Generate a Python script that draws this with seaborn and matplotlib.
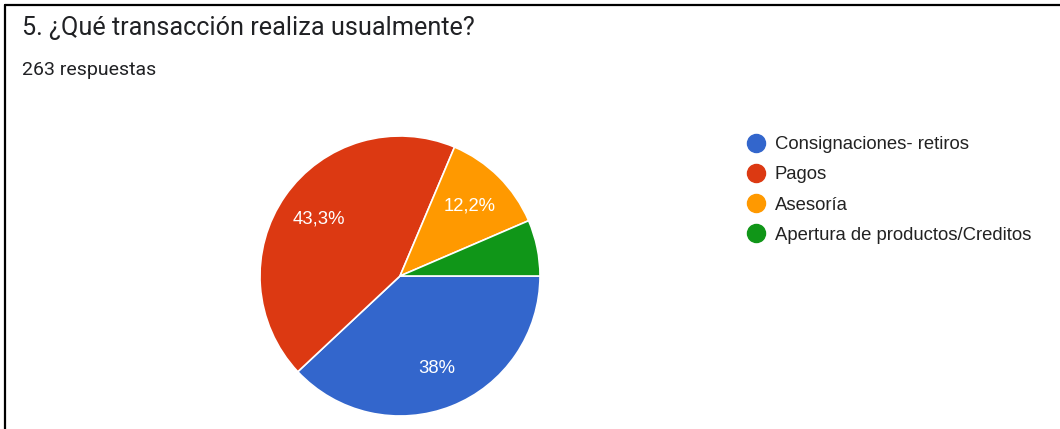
import matplotlib
matplotlib.use("Agg")
import matplotlib.pyplot as plt
from matplotlib.lines import Line2D
import seaborn as sns

categories = ["Consignaciones- retiros", "Pagos", "Asesoría", "Apertura de productos/Creditos"]
counts = [100, 114, 32, 17]
colors = ["#3366CC", "#DC3912", "#FF9900", "#109618"]
title = "5. ¿Qué transacción realiza usualmente?"
subtitle = "263 respuestas"

sns.set_theme(style="white")
plt.rcParams['font.family'] = ['Roboto', 'DejaVu Sans']
palette = sns.color_palette(colors)

fig = plt.figure(figsize=(10.6, 4.29), dpi=100)
fig.patch.set_facecolor("white")

W, H = 1060, 429
cx, cy, r = 400, 276, 140
ax = fig.add_axes([(cx - r) / W, (H - cy - r) / H, 2 * r / W, 2 * r / H])


def fmt(pct):
    if pct < 10:
        return ""
    s = f"{pct:.1f}"
    if s.endswith(".0"):
        s = s[:-2]
    return s.replace(".", ",") + "%"


wedges, texts, autotexts = ax.pie(
    counts, colors=palette, startangle=0, counterclock=False,
    autopct=fmt, pctdistance=0.71, radius=1,
    wedgeprops=dict(edgecolor="white", linewidth=1.2),
    textprops=dict(color="white", fontsize=13.3, family=['Liberation Sans', 'DejaVu Sans']),
)
ax.set_xlim(-1.0, 1.0)
ax.set_ylim(-1.0, 1.0)
ax.set_aspect("equal")
ax.axis("off")

fig.text(22 / W, 1 - 28 / H, title, fontsize=18.2, color="#202124", va="center", ha="left")
fig.text(22 / W, 1 - 70 / H, subtitle, fontsize=14, color="#202124", va="center", ha="left")

handles = [Line2D([0], [0], marker="o", linestyle="", markersize=13,
                  markerfacecolor=c, markeredgecolor=c) for c in palette]
leg = fig.legend(handles, categories, loc="upper left",
                 bbox_to_anchor=(747 / W, 1 - 136 / H), frameon=False,
                 prop=dict(family=['Liberation Sans', 'DejaVu Sans'], size=13.3),
                 labelspacing=0.72, handletextpad=0.5, handlelength=1.0,
                 borderaxespad=0, borderpad=0)
for t in leg.get_texts():
    t.set_color("#222222")

# outer frame (top and left lines)
fig.add_artist(Line2D([5 / W, 1.0], [1 - 5 / H, 1 - 5 / H], transform=fig.transFigure, color="black", linewidth=1.6))
fig.add_artist(Line2D([5 / W, 5 / W], [0, 1 - 5 / H], transform=fig.transFigure, color="black", linewidth=1.6))

fig.savefig("out.png", dpi=100, facecolor="white")
